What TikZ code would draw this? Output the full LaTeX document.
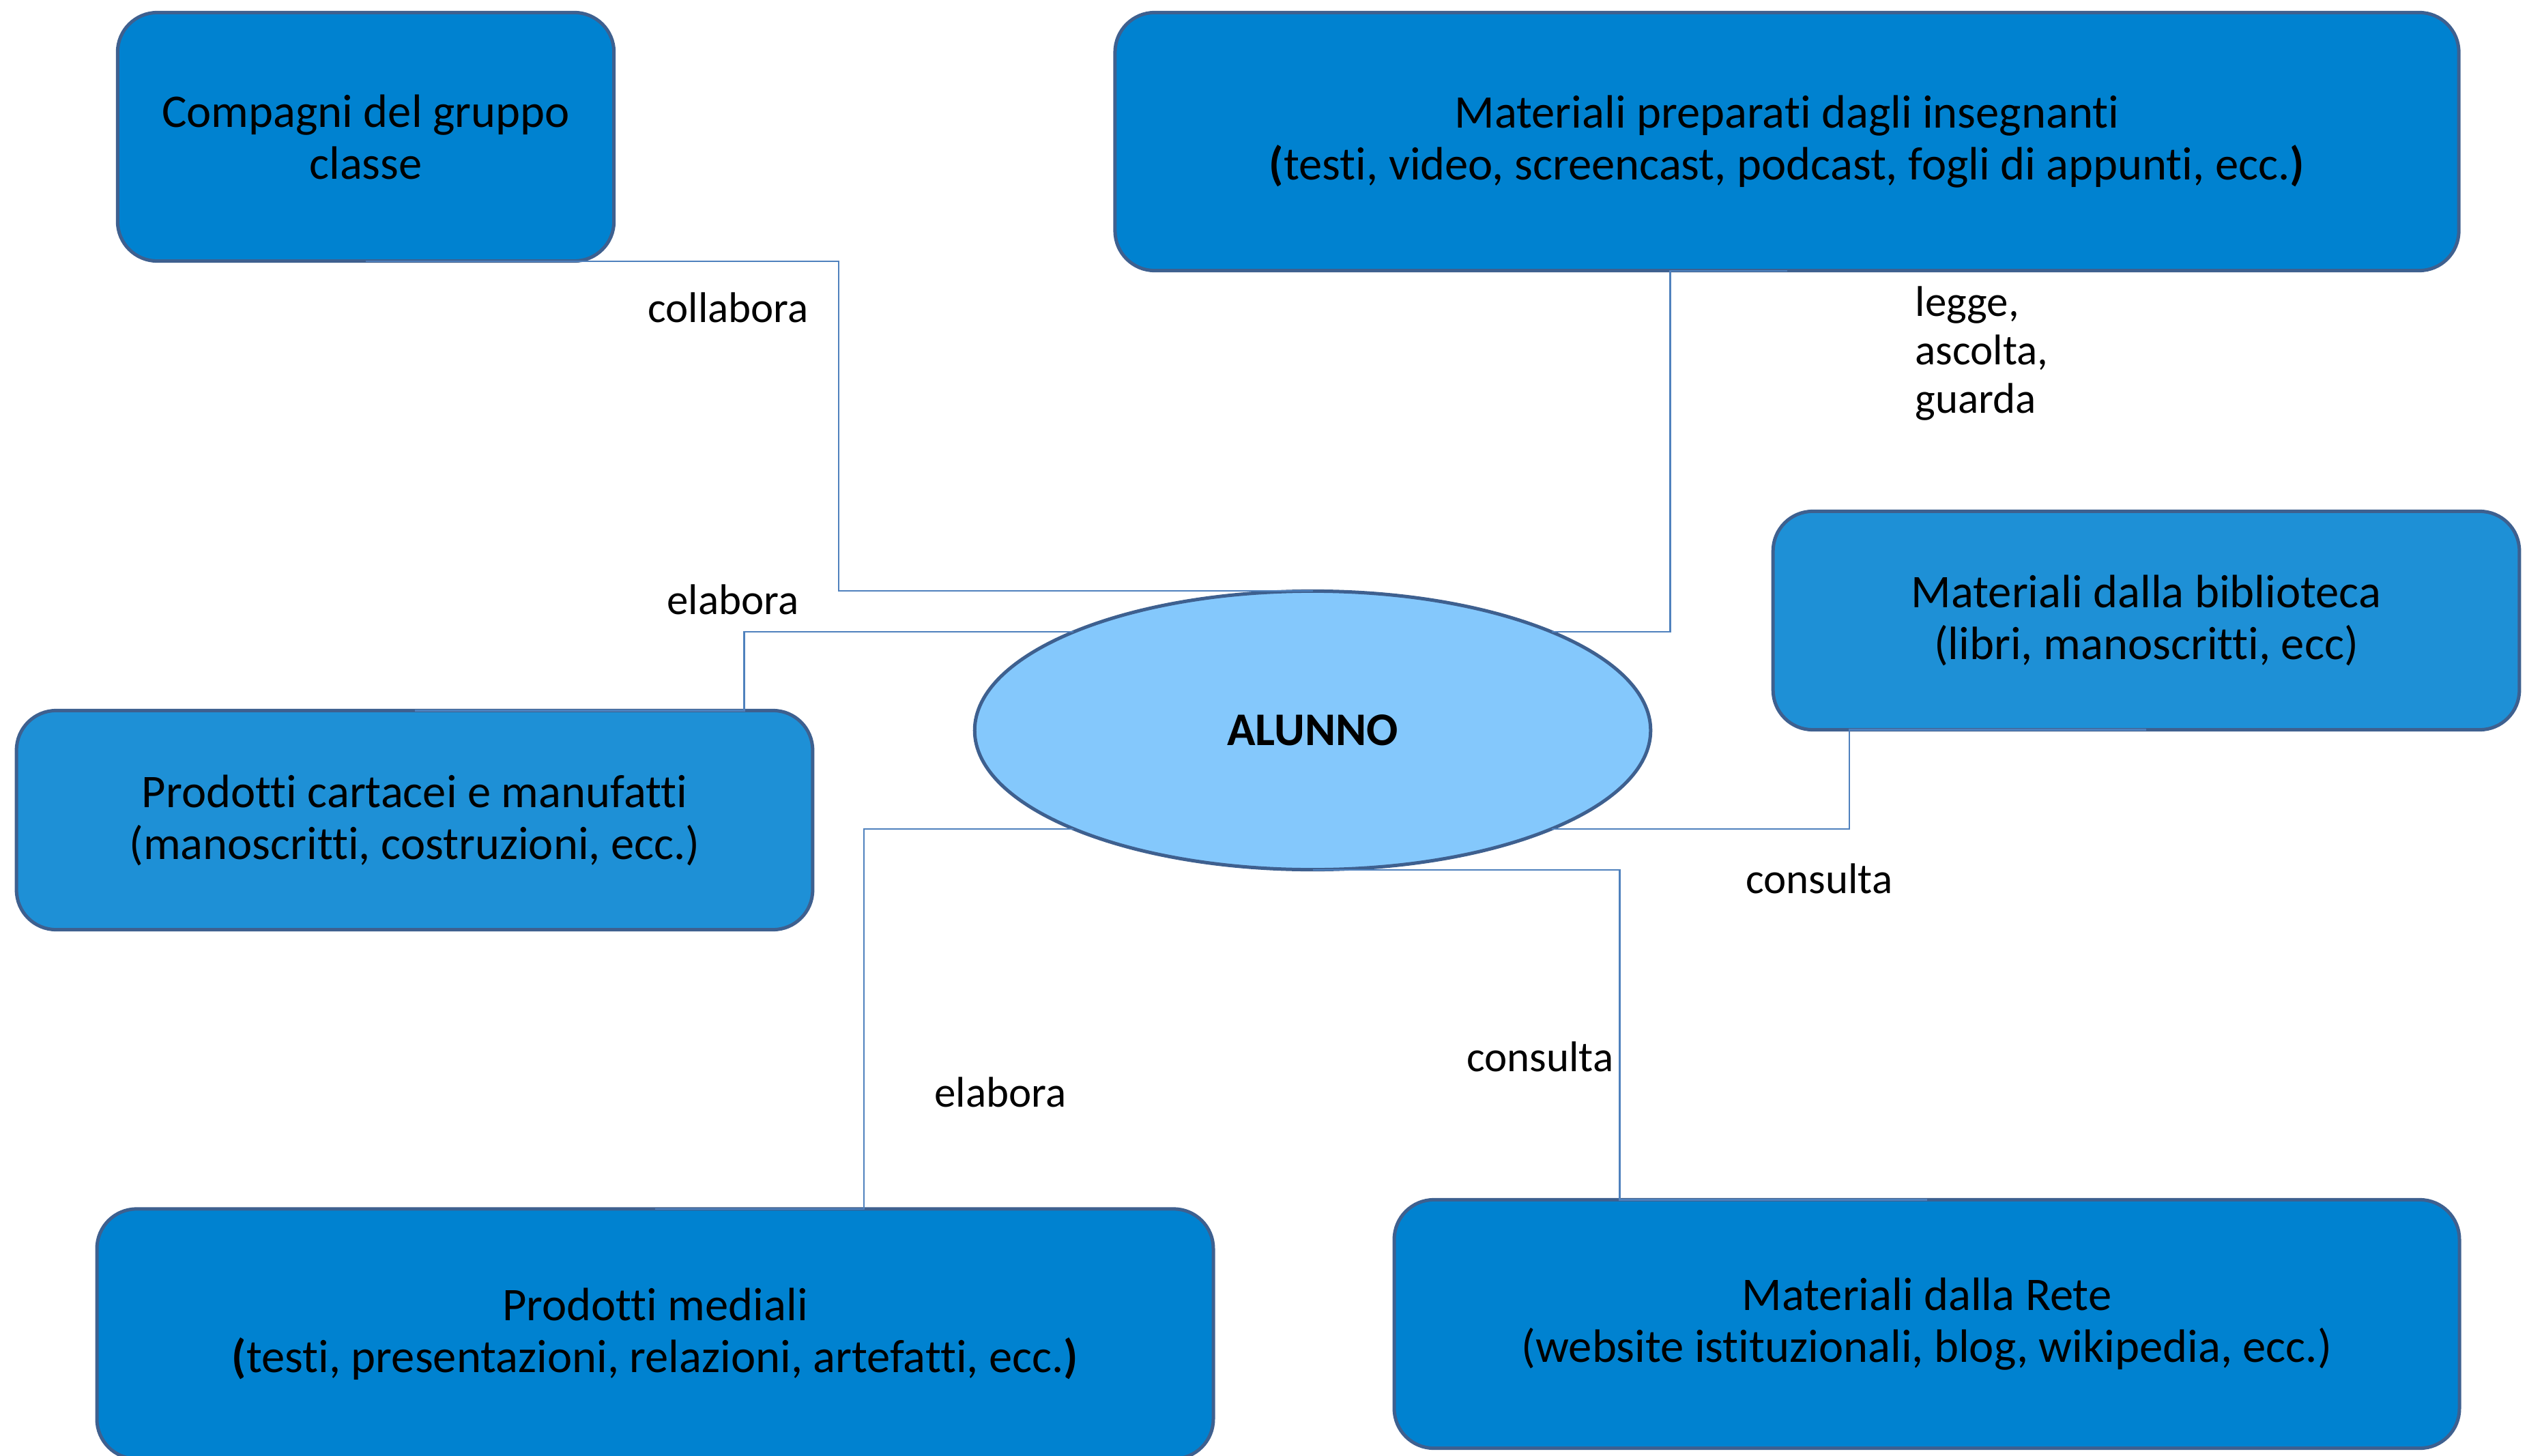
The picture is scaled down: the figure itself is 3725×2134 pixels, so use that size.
\documentclass[tikz,border=0pt]{standalone}
\usepackage{fontspec}
\setmainfont{Carlito}[Ligatures=NoCommon]
\usetikzlibrary{shapes.geometric}

\definecolor{boxdark}{RGB}{0,130,208}
\definecolor{boxlight}{RGB}{30,144,214}
\definecolor{boxedge}{RGB}{62,96,143}
\definecolor{hubfill}{RGB}{132,200,252}
\definecolor{linkblue}{RGB}{79,129,189}

\tikzset{
  card/.style={rectangle, rounded corners=0.58cm, draw=boxedge, line width=0.05cm,
    inner sep=0pt, outer sep=0pt, align=center,
    font=\fontsize{19.5pt}{21.6pt}\selectfont},
  carddark/.style={card, fill=boxdark},
  cardlight/.style={card, fill=boxlight},
  hub/.style={ellipse, draw=boxedge, line width=0.05cm, fill=hubfill,
    inner sep=0pt, outer sep=0pt, font=\fontsize{19.5pt}{21.6pt}\selectfont\bfseries},
  link/.style={draw=linkblue, line width=0.022cm},
  verb/.style={inner sep=0pt, align=left, font=\fontsize{17.9pt}{20.2pt}\selectfont}
}

\begin{document}
\begin{tikzpicture}[x=0.01cm, y=-0.01cm]
\useasboundingbox (0,0) rectangle (3725,2134);

% central student node
\node[hub, minimum width=9.90cm, minimum height=4.08cm] (alunno) at (1923.5,1070.5) {ALUNNO};

% surrounding resources and products
\node[carddark, minimum width=7.27cm, minimum height=3.64cm] (compagni) at (536,200.5)
  {Compagni del gruppo\\classe};
\node[carddark, minimum width=19.68cm, minimum height=3.78cm] (insegnanti) at (2618.5,207.5)
  {Materiali preparati dagli insegnanti\\\textbf{(}testi, video, screencast, podcast, fogli di appunti, ecc.\textbf{)}};
\node[cardlight, minimum width=10.93cm, minimum height=3.20cm] (biblioteca) at (3145,909.5)
  {Materiali dalla biblioteca\\(libri, manoscritti, ecc)};
\node[cardlight, minimum width=11.66cm, minimum height=3.21cm] (cartacei) at (607.5,1202)
  {Prodotti cartacei e manufatti\\(manoscritti, costruzioni, ecc.)};
\node[carddark, minimum width=16.35cm, minimum height=3.66cm] (mediali) at (960,1955)
  {Prodotti mediali\\\textbf{(}testi, presentazioni, relazioni, artefatti, ecc.\textbf{)}};
\node[carddark, minimum width=15.60cm, minimum height=3.64cm] (rete) at (2823.5,1940.5)
  {Materiali dalla Rete\\(website istituzionali, blog, wikipedia, ecc.)};

% elbow connectors
\draw[link] (compagni.south) -- ++(693,0) |- (alunno.north);
\draw[link] (insegnanti.south) -- ++(-171,0) |- (alunno.north east);
\draw[link] (cartacei.north) -- ++(483,0) |- (alunno.north west);
\draw[link] (mediali.north) -- ++(306,0) |- (alunno.south west);
\draw[link] (biblioteca.south) -- ++(-435,0) |- (alunno.south east);
\draw[link] (rete.north) -- ++(-450,0) |- (alunno.south);

% connector labels
\node[verb] (lcollabora) at (1067,451) {collabora};
\node[verb, anchor=west] (llegge) at (2806,518) {legge,\\ascolta,\\guarda};
\node[verb] (lelabora1) at (1074,879) {elabora};
\node[verb] (lconsulta1) at (2666,1288) {consulta};
\node[verb] (lconsulta2) at (2257,1549) {consulta};
\node[verb] (lelabora2) at (1466,1601) {elabora};
\end{tikzpicture}
\end{document}
